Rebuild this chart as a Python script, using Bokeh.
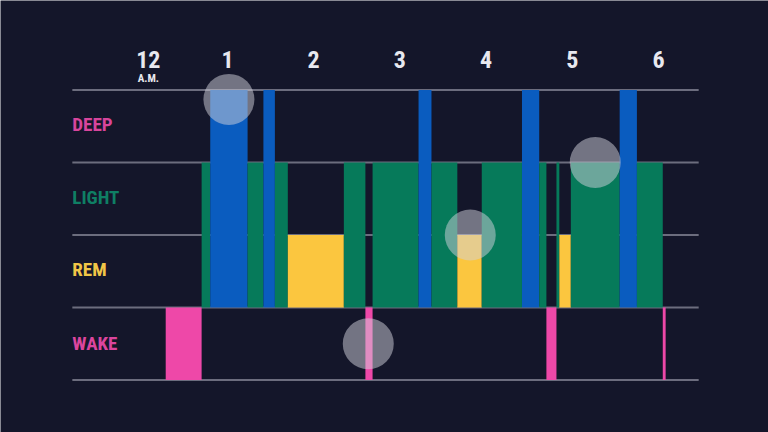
from bokeh.plotting import figure
from bokeh.models import Range1d
from bokeh.embed import file_html
from bokeh.resources import INLINE
from bokeh.core.properties import value

# Sleep stages over the night (minutes after midnight)
seg_start = [17, 42, 48, 74, 85, 93, 102, 141, 156, 161, 193, 202, 220, 237, 265, 277, 282, 289, 291, 299, 333, 345, 363]
seg_end   = [42, 48, 74, 85, 93, 102, 141, 156, 161, 193, 202, 220, 237, 265, 277, 282, 289, 291, 299, 333, 345, 363, 365]
seg_stage = ["WAKE", "LIGHT", "DEEP", "LIGHT", "DEEP", "LIGHT", "REM", "LIGHT", "WAKE", "LIGHT", "DEEP", "LIGHT",
             "REM", "LIGHT", "DEEP", "LIGHT", "WAKE", "LIGHT", "REM", "LIGHT", "DEEP", "LIGHT", "WAKE"]

stage_names = ["DEEP", "LIGHT", "REM", "WAKE"]
stage_level = {"DEEP": 3, "LIGHT": 2, "REM": 1, "WAKE": -1}
stage_mid = [2.52, 1.52, 0.52, -0.5]
stage_bar_color = {"DEEP": "#0a5cbf", "LIGHT": "#067a5a", "REM": "#fbc63f", "WAKE": "#ee48a8"}
stage_label_color = ["#d8459c", "#0f7f64", "#f1c647", "#dc459e"]

hour_minutes = [0, 60, 120, 180, 240, 300, 360]
hour_labels = ["12", "1", "2", "3", "4", "5", "6"]

grid_levels = [3, 2, 1, 0, -1]

marker_x = [61, 158, 229, 316]
marker_y = [2.87, -0.5, 1.0, 2.0]

BG = "#14162a"

p = figure(width=768, height=432, output_backend="svg", toolbar_location=None,
           x_range=Range1d(-98.0, 436.6), y_range=Range1d(-1.724, 4.234),
           min_border=0, min_border_left=0, min_border_right=0, min_border_top=0, min_border_bottom=0)
p.axis.visible = False
p.grid.visible = False
p.outline_line_color = None
p.background_fill_color = BG
p.border_fill_color = BG

# grid lines
p.segment(x0=[-48] * len(grid_levels), x1=[388] * len(grid_levels), y0=grid_levels, y1=grid_levels,
          line_color="#6c6d7e", line_width=2)

# stage bars
bottoms = [min(0, stage_level[s]) for s in seg_stage]
tops = [max(0, stage_level[s]) for s in seg_stage]
colors = [stage_bar_color[s] for s in seg_stage]
p.quad(left=seg_start, right=seg_end, bottom=bottoms, top=tops, fill_color=colors, line_color=None)

# markers
p.scatter(x=marker_x, y=marker_y, size=51, marker="circle", fill_color="#d2d2dc", fill_alpha=0.5, line_color=None)

FONT = value("'Roboto Condensed', 'DejaVu Sans Condensed', Roboto")

# stage labels
p.text(x=[-48] * 4, y=stage_mid, text=stage_names, text_color=stage_label_color,
       text_font=FONT, text_font_style="bold", text_font_size="19px",
       text_align="left", text_baseline="middle")

# hour labels
p.text(x=hour_minutes[1:], y=[3.42] * 6, text=hour_labels[1:], text_color="#e8e8ef",
       text_font=FONT, text_font_style="bold", text_font_size="24px",
       text_align="center", text_baseline="middle")
p.text(x=hour_minutes[:1], y=[3.42], text=hour_labels[:1], text_color="#e8e8ef", x_offset=7,
       text_font=FONT, text_font_style="bold", text_font_size="24px",
       text_align="center", text_baseline="middle")
p.text(x=hour_minutes[:1], y=[3.16], text=["A.M."], text_color="#e8e8ef", x_offset=7,
       text_font=FONT, text_font_style="bold", text_font_size="11px",
       text_align="center", text_baseline="middle")

open("out.html", "w").write(file_html(p, INLINE))
